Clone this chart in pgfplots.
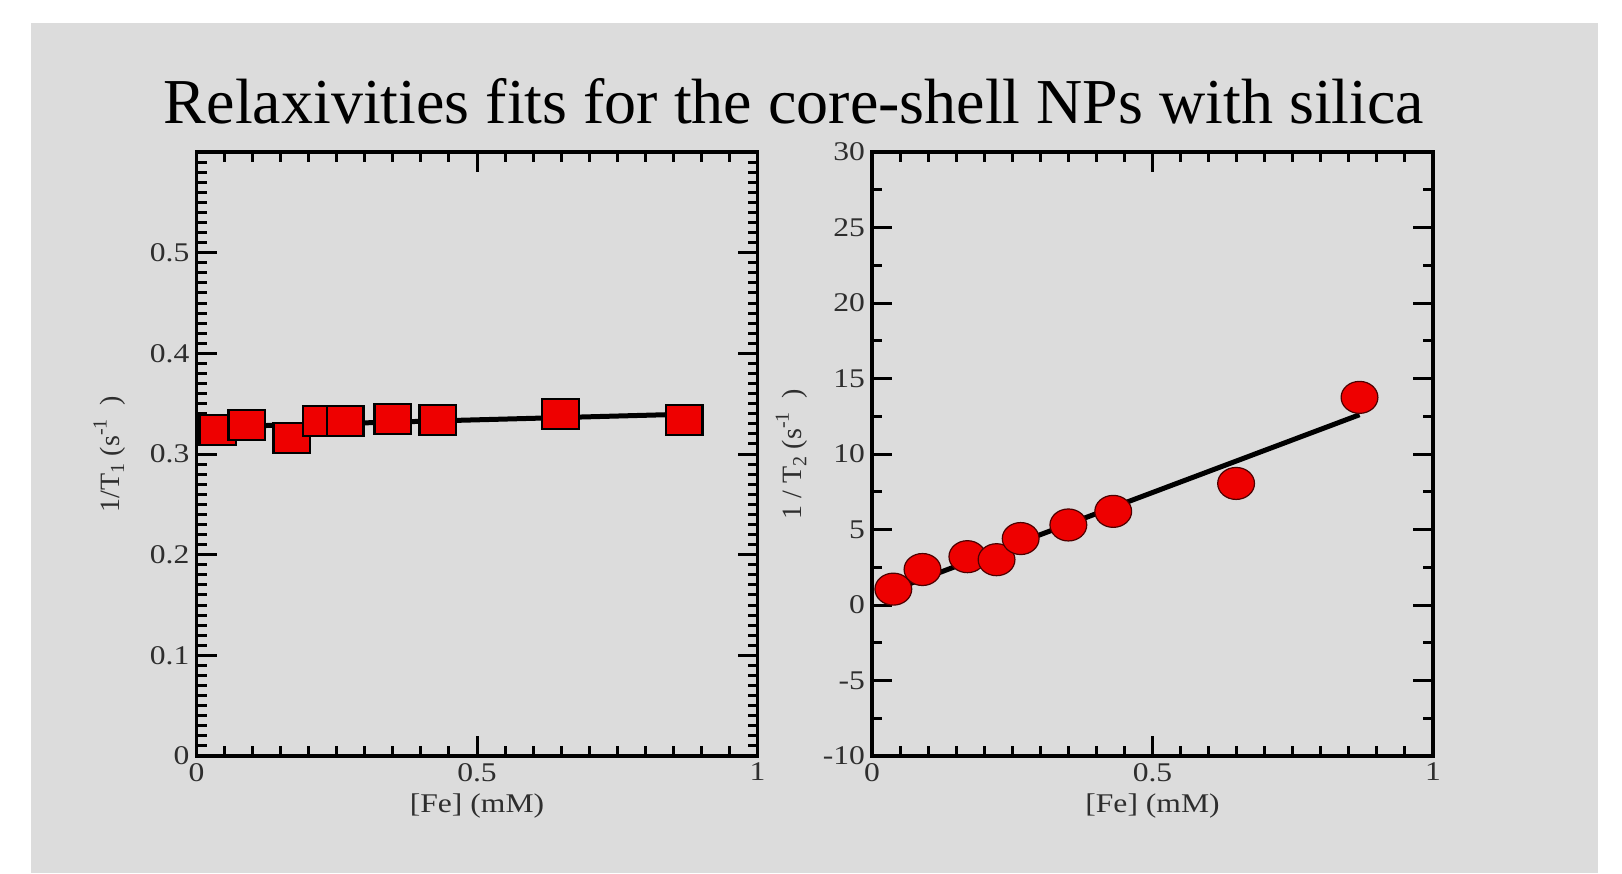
\documentclass[border=0pt]{standalone}
\usepackage{fontspec}
\setmainfont{Liberation Serif}
\newfontfamily\plotfont{Liberation Serif}[FakeStretch=1.17]
\usepackage{pgfplots}
\pgfplotsset{compat=1.18}
\definecolor{slidegray}{HTML}{DCDCDC}
\definecolor{ptred}{HTML}{EE0000}
\definecolor{ticktext}{HTML}{2E2E2E}

\pgfplotstableread{
x y
0.038 0.324
0.090 0.329
0.170 0.316
0.222 0.333
0.265 0.333
0.350 0.335
0.430 0.334
0.649 0.340
0.869 0.334
}\tone
\pgfplotstableread{
x y
0.038 0.327
0.869 0.3395
}\tonefit
\pgfplotstableread{
x y
0.038 1.05
0.090 2.35
0.170 3.20
0.222 3.00
0.265 4.40
0.350 5.30
0.430 6.20
0.649 8.05
0.869 13.75
}\ttwo
\pgfplotstableread{
x y
0.038 1.0
0.869 12.6
}\ttwofit

\newcommand{\lo}[1]{\raisebox{-0.35ex}{\fontsize{10}{10}\selectfont #1}}
\newcommand{\hi}[1]{\raisebox{1.0ex}{\fontsize{10}{10}\selectfont #1}}

\pgfplotsset{
  relax/.style={
    scale only axis, width=280.5pt, height=302pt, anchor=south west,
    xmin=0, xmax=1, xtick={0,0.5,1}, xticklabels={0,0.5,1},
    minor x tick num=9,
    tick align=inside,
    major tick length=10pt, minor tick length=5pt,
    axis line style={line width=1.7pt},
    every tick/.style={line width=1.5pt, black},
    ticklabel style={font=\plotfont\fontsize{13.5}{15}\selectfont, text=ticktext},
    xlabel style={font=\plotfont\fontsize{13.5}{15}\selectfont, text=ticktext,
      at={(axis description cs:0.5,-0.083)}, anchor=center},
    ylabel style={font=\fontsize{14}{15}\selectfont, text=ticktext},
    xlabel={[Fe] (mM)},
  },
}

\begin{document}
\begin{tikzpicture}
\fill[white] (0,0) rectangle (811pt,436.5pt);
\fill[slidegray] (15.5pt,0) rectangle (799pt,425pt);
\node[anchor=base, font=\fontsize{32}{36}\selectfont] at (397pt,374.5pt)
  {Relaxivities fits for the core-shell NPs with silica};

\begin{axis}[relax, at={(98.25pt,58.5pt)},
  ymin=0, ymax=0.6, ytick={0,0.1,0.2,0.3,0.4,0.5,0.6},
  yticklabels={0,0.1,0.2,0.3,0.4,0.5,}, minor y tick num=9,
  ylabel={1/T\lo{1}\ (s\hi{-1}\ \ )},
  ylabel style={at={(axis description cs:-0.155,0.5)}, anchor=center},
]
\addplot[line width=2.5pt, black] table[x=x, y=y] {\tonefit};
\addplot[only marks, mark=square*, mark size=7.5pt,
  mark options={xscale=1.22, fill=ptred, draw=black, line width=1.2pt}]
  table[x=x, y=y] {\tone};
\end{axis}

\begin{axis}[relax, at={(436pt,58.5pt)},
  ymin=-10, ymax=30, ytick={-10,-5,0,5,10,15,20,25,30},
  yticklabels={-10,-5,0,5,10,15,20,25,30}, minor y tick num=1,
  ylabel={1 / T\lo{2}\ (s\hi{-1}\ \ )},
  ylabel style={at={(axis description cs:-0.143,0.5)}, anchor=center},
]
\addplot[line width=2.5pt, black] table[x=x, y=y] {\ttwofit};
\addplot[only marks, mark=*, mark size=8pt,
  mark options={xscale=1.15, fill=ptred, draw=black!70!red, line width=0.6pt}]
  table[x=x, y=y] {\ttwo};
\end{axis}
\end{tikzpicture}
\end{document}
